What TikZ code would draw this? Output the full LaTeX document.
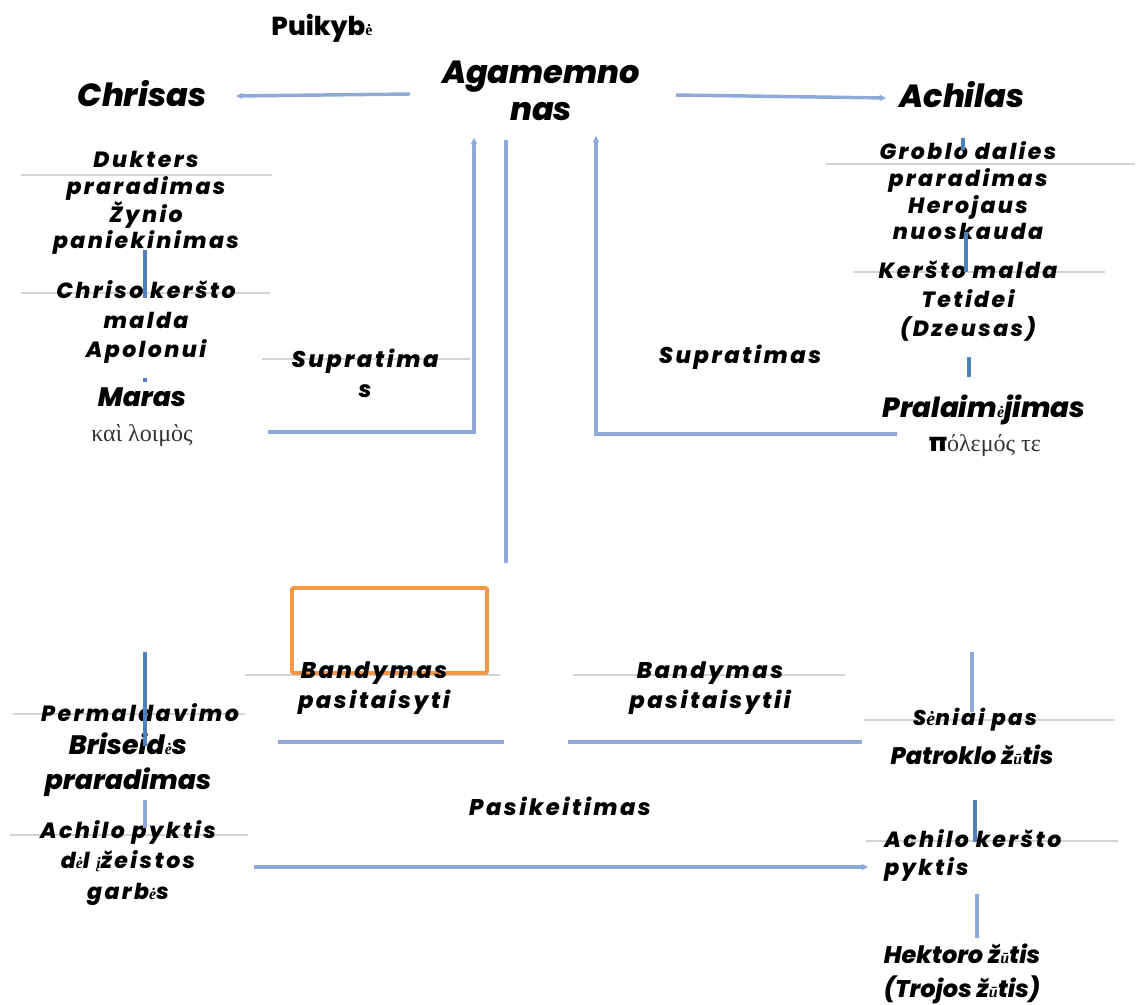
\documentclass[tikz,border=0pt]{standalone}
\usepackage{fontspec}
\newfontfamily\pop{Poppins}[BoldItalicFont={Poppins ExtraBold Italic},BoldFont={Poppins ExtraBold}]
\newfontfamily\pops{Poppins}[BoldItalicFont={Poppins ExtraBold Italic},BoldFont={Poppins ExtraBold},LetterSpace=11]
\newfontfamily\gr{Liberation Serif}
\definecolor{lb}{HTML}{8EAAD8}
\definecolor{db}{HTML}{4F81BD}
\definecolor{gl}{HTML}{D4D4D4}
\definecolor{og}{HTML}{F79646}
\definecolor{gk}{HTML}{333333}
\newcommand{\fs}[1]{\fontsize{#1}{#1}\selectfont}
\newcommand{\gch}[1]{{\gr\fontsize{12}{12}\selectfont #1}}
\usetikzlibrary{arrows.meta}
\tikzset{
  txt/.style={align=center, inner sep=0pt, text=black},
  big/.style={txt, font=\pop\bfseries\itshape\fontsize{24}{28}\selectfont},
  med/.style={txt, font=\pop\bfseries\itshape\fontsize{20}{26}\selectfont},
  small/.style={txt, font=\pops\bfseries\itshape\fontsize{16.5}{20}\selectfont},
  grk/.style={inner sep=0pt, text=gk, font=\gr\fontsize{18}{18}\selectfont},
  bl/.style={draw=lb, line width=2.6pt},
  dbl/.style={draw=db, line width=2.4pt},
  gline/.style={draw=gl, line width=0.8pt},
  tip/.style={-{Stealth[length=5pt,width=5pt]}}
}
\begin{document}
\begin{tikzpicture}[x=0.75pt,y=-0.75pt]
\useasboundingbox (0,0) rectangle (1137,1005);
% gray rules
\draw[gline] (21,175) -- (272,175);
\draw[gline] (21,293) -- (270,293);
\draw[gline] (262,359) -- (470,359);
\draw[gline] (826,164) -- (1135,164);
\draw[gline] (853,272) -- (1105,272);
\draw[gline] (245,675) -- (500,675);
\draw[gline] (573,675) -- (845,675);
\draw[gline] (13,714) -- (245,714);
\draw[gline] (10,835) -- (248,835);
\draw[gline] (864,720) -- (1115,720);
\draw[gline] (866,841) -- (1118,841);

% titles
\node[txt, font=\pop\bfseries\fs{19.5}] (puik) at (322,28) {Puikyb\gch{ė}};
\node[big] (chr) at (142,94) {Chrisas};
\node[big] (aga) at (541,91) {Agamemno\\nas};
\node[big] (ach) at (962,95) {Achilas};

% left column
\node[small] (duk) at (146,203) {Dukters\\praradimas\\Žynio\\paniekinimas};
\node[small, font=\pops\bfseries\itshape\fontsize{16.5}{22}\selectfont] (chm) at (146,322) {Chriso keršto\\malda\\Apolonui};
\node[med] (mar) at (142,397) {Maras};
\node[grk] (kai) at (142,436) {καὶ λοιμὸς};
\node[small, font=\pops\bfseries\itshape\fontsize{17}{22.5}\selectfont] (sup1) at (365,373) {Supratima\\s};

% right column
\node[small] (gro) at (968,191) {Groblo dalies\\praradimas\\Herojaus\\nuoskauda};
\node[small, font=\pops\bfseries\itshape\fontsize{16.5}{22}\selectfont] (ker) at (968,301) {Keršto malda\\Tetidei\\(Dzeusas)};
\node[med, font=\pop\bfseries\itshape\fontsize{20.8}{26}\selectfont] (pra) at (984,410) {Pralaim\gch{ė}jimas};
\node[grk] (pol) at (985,446) {{\pop\bfseries\color{black}\fs{19}π}όλεμός τε};
\node[small, font=\pops\bfseries\itshape\fs{17}] (sup2) at (740,357) {Supratimas};

% middle
\draw[og, line width=2.9pt, rounded corners=1pt] (292,588) rectangle (487,673);
\node[small, font=\pops\bfseries\itshape\fontsize{17}{22}\selectfont] (ban1) at (374,688) {Bandymas\\pasitaisyti};
\node[small, font=\pops\bfseries\itshape\fontsize{17}{22}\selectfont] (ban2) at (710,688) {Bandymas\\pasitaisytii};
\node[small, font=\pops\bfseries\itshape\fs{17}] (pas) at (560,806) {Pasikeitimas};

% bottom left
\node[small, font=\pops\bfseries\itshape\fs{16.5}] (per) at (140,713) {Permaldavimo};
\node[med, font=\pop\bfseries\itshape\fontsize{20}{26}\selectfont] (bri) at (128,765) {Briseid\gch{ė}s\\praradimas};
\node[small, font=\pops\bfseries\itshape\fontsize{16.5}{23}\selectfont] (apk) at (128,863) {Achilo pyktis\\d\gch{ė}l \gch{į}žeistos\\garb\gch{ė}s};

% bottom right
\node[small, font=\pops\bfseries\itshape\fs{16}] (sen) at (975,720) {S{\gr\fs{15}ė}niai pas};
\node[med, font=\pop\bfseries\itshape\fs{18}] (pat) at (972,755) {Patroklo ž\gch{ū}tis};
\node[small, font=\pops\bfseries\itshape\fontsize{16.5}{21}\selectfont, align=left, anchor=west] (akp) at (884,855) {Achilo keršto\\pyktis};
\node[med, font=\pop\bfseries\itshape\fontsize{18}{25}\selectfont] (hek) at (962,974) {Hektoro ž\gch{ū}tis\\(Trojos ž\gch{ū}tis)};

% coordinates for connectors
\coordinate (a1) at (410,94); \coordinate (c1) at (236,96);
\coordinate (a2) at (676,95); \coordinate (h2) at (886,98);
\coordinate (l1) at (268,432); \coordinate (l2) at (474,432); \coordinate (l3) at (474,138);
\coordinate (m1) at (506,140); \coordinate (m2) at (506,563);
\coordinate (r1) at (897,434); \coordinate (r2) at (596,434); \coordinate (r3) at (596,136);
\coordinate (v1a) at (145,250); \coordinate (v1b) at (145,298);
\coordinate (v2a) at (963,138); \coordinate (v2b) at (963,150);
\coordinate (v3a) at (966,232); \coordinate (v3b) at (966,272);
\coordinate (v4a) at (969,357); \coordinate (v4b) at (969,377);
\coordinate (b1a) at (278,742); \coordinate (b1b) at (504,742);
\coordinate (b2a) at (568,742); \coordinate (b2b) at (862,742);
\coordinate (v5a) at (145,652); \coordinate (v5b) at (145,746);
\coordinate (v6a) at (145,800); \coordinate (v6b) at (145,828);
\coordinate (h3a) at (254,867); \coordinate (h3b) at (868,867);
\coordinate (v7a) at (972,652); \coordinate (v7b) at (972,712);
\coordinate (v8a) at (975,800); \coordinate (v8b) at (975,842);
\coordinate (v9a) at (977,894); \coordinate (v9b) at (977,938);

\draw[bl, tip] (a1) -- (c1);
\draw[bl, tip] (a2) -- (h2);
\draw[bl, tip] (l1) -- (l2) -- (l3);
\draw[bl] (m1) -- (m2);
\draw[bl, tip] (r1) -- (r2) -- (r3);
\draw[dbl] (v1a) -- (v1b);
\fill[db] (143,378) rectangle (147,382);
\draw[dbl] (v2a) -- (v2b);
\draw[dbl] (v3a) -- (v3b);
\draw[dbl] (v4a) -- (v4b);
\draw[bl] (b1a) -- (b1b);
\draw[bl] (b2a) -- (b2b);
\draw[dbl] (v5a) -- (v5b);
\draw[bl] (v6a) -- (v6b);
\draw[bl, tip] (h3a) -- (h3b);
\draw[bl] (v7a) -- (v7b);
\draw[dbl] (v8a) -- (v8b);
\draw[bl] (v9a) -- (v9b);
\end{tikzpicture}
\end{document}
